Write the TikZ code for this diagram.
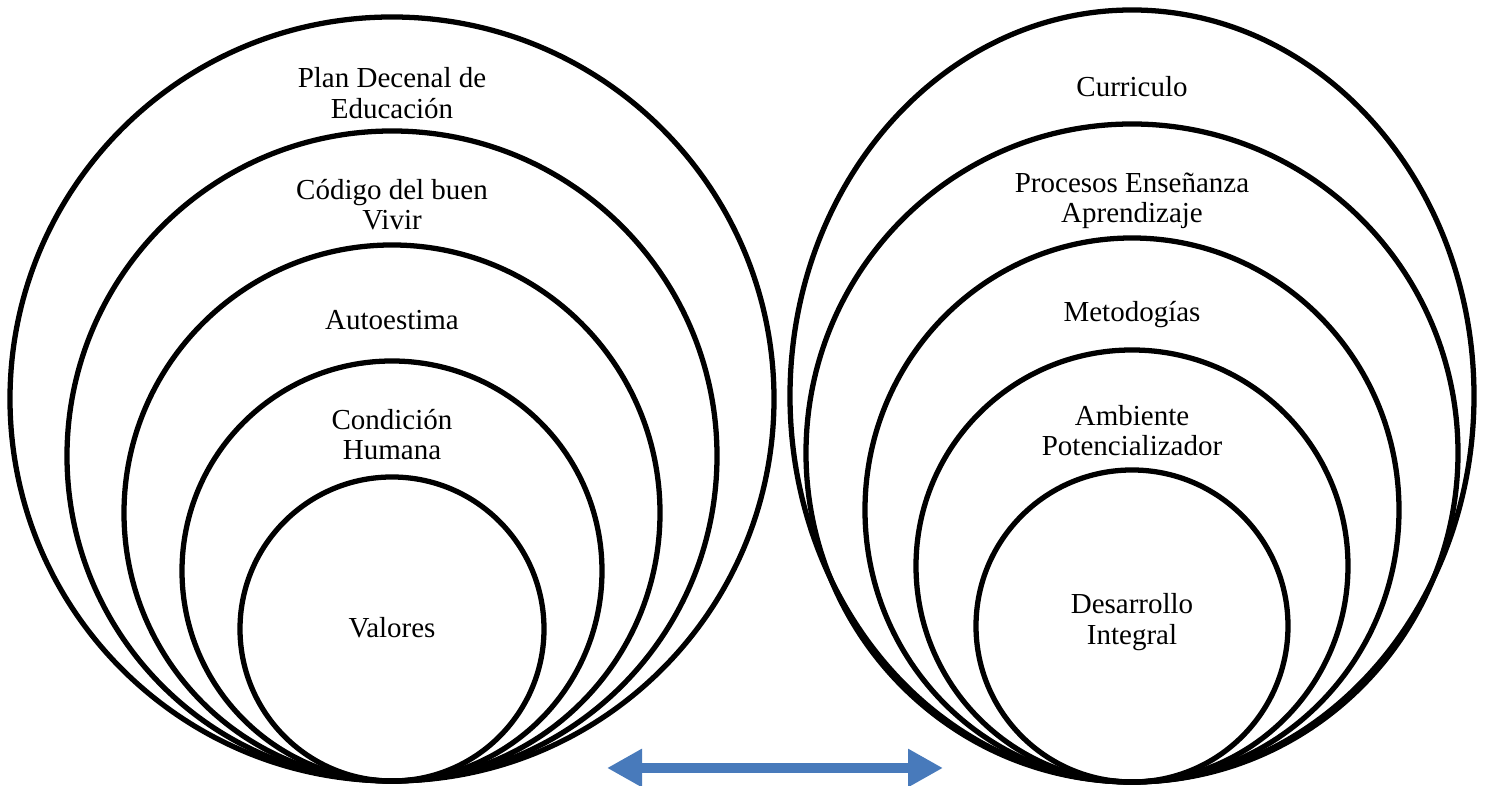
\documentclass[tikz,border=0pt]{standalone}
\usepackage{fontspec}
\setmainfont{Liberation Serif}
\usetikzlibrary{arrows.meta}
\definecolor{arrowblue}{RGB}{72,122,187}
\begin{document}
\begin{tikzpicture}[ring/.style={line width=1.5pt},
  lbl/.style={align=center,inner sep=0pt,font=\fontsize{8.25}{8.6}\selectfont}]
\useasboundingbox (0,0) rectangle (14.86,7.86);
% left rings
\draw[ring] (3.92,3.87) circle (3.82);
\draw[ring] (3.92,3.30) circle (3.25);
\draw[ring] (3.92,2.73) circle (2.68);
\draw[ring] (3.92,2.15) circle (2.10);
\draw[ring] (3.92,1.57) circle (1.52);
\node[lbl] (plan) at (3.92,6.93) {Plan Decenal de\\Educación};
\node[lbl] (codigo) at (3.92,5.81) {Código del buen\\Vivir};
\node[lbl] (auto) at (3.92,4.66) {Autoestima};
\node[lbl] (cond) at (3.92,3.515) {Condición\\Humana};
\node[lbl] (val) at (3.92,1.58) {Valores};
% right rings
\draw[ring] (11.32,3.90) ellipse (3.42 and 3.86);
\draw[ring] (11.32,3.33) ellipse (3.26 and 3.29);
\draw[ring] (11.32,2.76) ellipse (2.67 and 2.72);
\draw[ring] (11.32,2.20) circle (2.16);
\draw[ring] (11.32,1.60) circle (1.56);
\node[lbl] (curr) at (11.32,6.99) {Curriculo};
\node[lbl] (proc) at (11.32,5.855) {Procesos Enseñanza\\Aprendizaje};
\node[lbl] (met) at (11.32,4.71) {Metodogías};
\node[lbl] (amb) at (11.32,3.555) {Ambiente\\Potencializador};
\node[lbl] (des) at (11.32,1.64) {Desarrollo\\Integral};
% arrow
\coordinate (P) at (6.07,0.18);
\coordinate (Q) at (9.43,0.18);
\draw[arrowblue,line width=3.1pt,{Triangle[length=3.5mm,width=3.6mm]}-{Triangle[length=3.5mm,width=3.6mm]}] (P) -- (Q);
\end{tikzpicture}
\end{document}
